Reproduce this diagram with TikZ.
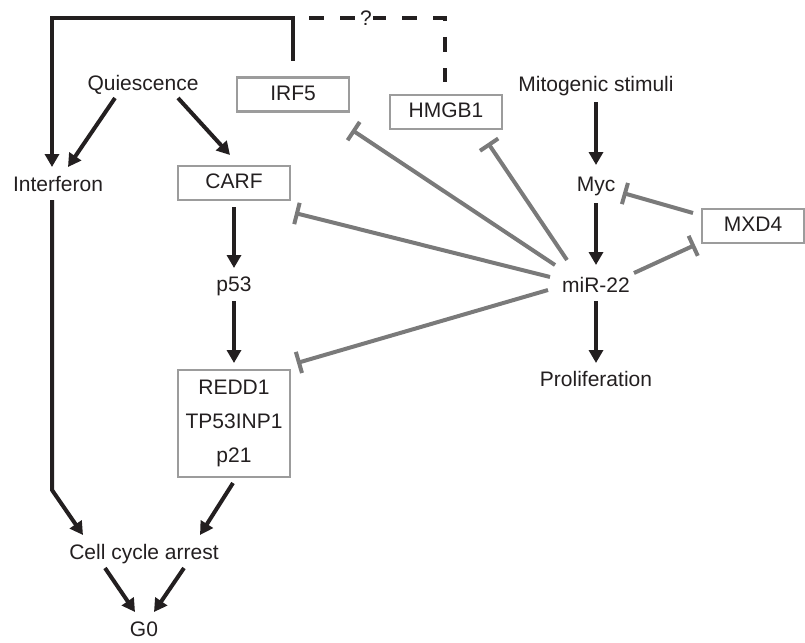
\documentclass[tikz,border=0pt]{standalone}
\usepackage{fontspec}
\setmainfont{Liberation Sans}
\usetikzlibrary{arrows.meta}
\definecolor{ink}{HTML}{231F20}
\definecolor{inh}{HTML}{7A7A7A}
\definecolor{boxc}{HTML}{9C9C9C}
\begin{document}
\begin{tikzpicture}[x=1pt,y=-1pt,
  txt/.style={font=\fontsize{21}{25}\selectfont, text=ink, inner sep=0pt, text height=15pt, text depth=4pt},
  gbox/.style={txt, draw=boxc, line width=2.5pt, minimum width=112pt, minimum height=34pt},
  arr/.style={draw=ink, line width=4pt, -{Triangle[length=13pt,width=14pt]}},
  dsh/.style={draw=ink, line width=3.5pt, dash pattern=on 15pt off 16pt, dash phase=15pt},
  inhib/.style={draw=inh, line width=4pt, -{Bar[width=22pt]}}]
\useasboundingbox (0,0) rectangle (805,642);
% nodes
\node[txt] (qui) at (143,85) {Quiescence};
\node[txt] (mito) at (596,86) {Mitogenic stimuli};
\node[gbox] (irf5) at (293,94.5) {IRF5};
\node[gbox] (hmgb1) at (446,112) {HMGB1};
\node[txt] (ifn) at (58,186) {Interferon};
\node[gbox] (carf) at (234,183) {CARF};
\node[txt] (myc) at (596,186) {Myc};
\node[gbox, minimum width=102pt] (mxd4) at (753,226) {MXD4};
\node[txt] (p53) at (234,286) {p53};
\node[txt] (mir) at (596,287) {miR-22};
\node[txt] (prol) at (596,381) {Proliferation};
\node[gbox, minimum height=107pt, align=center, text height=, text depth=, font=\fontsize{21}{34}\selectfont] (redd) at (234,423.5) {REDD1\\TP53INP1\\p21};
\node[txt] (cca) at (144,554) {Cell cycle arrest};
\node[txt] (g0) at (144,631) {G0};
\coordinate (brM) at (293,18);
\coordinate (brL) at (52,18);
\coordinate (brR) at (445,18);
\coordinate (bend) at (52,490);
% feedback bracket
\draw[arr] ([shift={(0,-33.5)}]irf5.center) -- (brM) -- (brL) -- ([shift={(-6,-19)}]ifn.center);
\draw[dsh] (brM) -- (brR) -- ([shift={(-1,-30)}]hmgb1.center);
\node[txt, fill=white, inner xsep=1pt, text height=13pt, text depth=0pt] (q) at (366,19) {?};
% black arrows
\draw[arr] ([shift={(-28,13)}]qui.center) -- ([shift={(10,-19)}]ifn.center);
\draw[arr] ([shift={(35,13)}]qui.center) -- ([shift={(-4,-28)}]carf.center);
\draw[arr] ([shift={(-6,14)}]ifn.center) -- (bend) -- ([shift={(-61,-19)}]cca.center);
\draw[arr] ([shift={(0,24)}]carf.center) -- ([shift={(0,-18)}]p53.center);
\draw[arr] ([shift={(0,15)}]p53.center) -- ([shift={(0,-60.5)}]redd.center);
\draw[arr] ([shift={(-1,59.5)}]redd.center) -- ([shift={(56,-19)}]cca.center);
\draw[arr] ([shift={(-39,14)}]cca.center) -- ([shift={(-9,-19)}]g0.center);
\draw[arr] ([shift={(40,14)}]cca.center) -- ([shift={(10,-19)}]g0.center);
\draw[arr] ([shift={(0,16)}]mito.center) -- ([shift={(0,-21)}]myc.center);
\draw[arr] ([shift={(0,17)}]myc.center) -- ([shift={(0,-22)}]mir.center);
\draw[arr] ([shift={(0,14)}]mir.center) -- ([shift={(0,-18)}]prol.center);
% inhibitions
\draw[inhib] ([shift={(-41,-22)}]mir.center) -- ([shift={(59,35.5)}]irf5.center);
\draw[inhib] ([shift={(-29,-27)}]mir.center) -- ([shift={(42,31)}]hmgb1.center);
\draw[inhib] ([shift={(-46,-10)}]mir.center) -- ([shift={(61,30)}]carf.center);
\draw[inhib] ([shift={(-48,3)}]mir.center) -- ([shift={(63,-60.5)}]redd.center);
\draw[inhib] ([shift={(38,-14)}]mir.center) -- ([shift={(-58,19)}]mxd4.center);
\draw[inhib] ([shift={(-60,-13)}]mxd4.center) -- ([shift={(27,7)}]myc.center);
\end{tikzpicture}
\end{document}
